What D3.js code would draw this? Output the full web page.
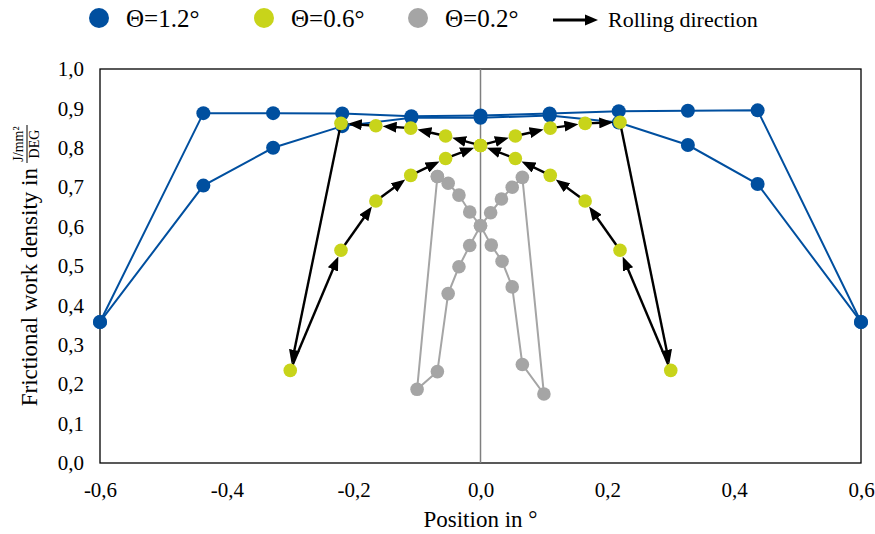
<!DOCTYPE html>
<html lang="en">
<head>
<meta charset="UTF-8">
<title>Frictional work density</title>
<script src="https://cdn.jsdelivr.net/npm/d3@7"></script>
<style>
  body { margin: 0; background: #fff; }
  svg text { font-family: "Liberation Serif", "Times New Roman", serif !important; fill: #000; }
</style>
</head>
<body>
<svg width="875" height="534"></svg>
<script>
// axis ticks
var xTicks = [-0.6, -0.4, -0.2, 0, 0.2, 0.4, 0.6];
var yTicks = [0, 0.1, 0.2, 0.3, 0.4, 0.5, 0.6, 0.7, 0.8, 0.9, 1.0];

// theta = 1.2 deg, two branches
var blueX     = [-0.6, -0.437, -0.327, -0.218, -0.109, 0, 0.109, 0.218, 0.327, 0.437, 0.6];
var blueUpper = [0.358, 0.888, 0.888, 0.887, 0.880, 0.882, 0.887, 0.893, 0.894, 0.895, 0.358];
var blueLower = [0.358, 0.704, 0.800, 0.855, 0.876, 0.876, 0.882, 0.864, 0.807, 0.708, 0.358];

// theta = 0.6 deg, in rolling order (arrows go point to point)
var yellowX = [0, -0.055, -0.11, -0.165, -0.22, -0.3, -0.22, -0.165, -0.11, -0.055, 0,
               0.055, 0.11, 0.165, 0.22, 0.3, 0.22, 0.165, 0.11, 0.055, 0];
var yellowY = [0.806, 0.830, 0.850, 0.856, 0.862, 0.235, 0.540, 0.665, 0.730, 0.773, 0.806,
               0.830, 0.850, 0.862, 0.865, 0.235, 0.540, 0.665, 0.730, 0.773, 0.806];

// theta = 0.2 deg, closed loop
var grayX = [-0.068, -0.051, -0.034, -0.017, 0, 0.017, 0.034, 0.05, 0.066, 0.1,
             0.066, 0.05, 0.033, 0.016, 0, -0.017, -0.034, -0.051, -0.068, -0.1, -0.068];
var grayY = [0.727, 0.710, 0.680, 0.637, 0.602, 0.553, 0.512, 0.447, 0.250, 0.175,
             0.725, 0.700, 0.670, 0.635, 0.602, 0.552, 0.498, 0.430, 0.232, 0.187, 0.727];

var legendLabels = ["\u0398=1.2\u00b0", "\u0398=0.6\u00b0", "\u0398=0.2\u00b0"];
var arrowLabel = "Rolling direction";

var colors = ["#004f9f", "#c8d41a", "#a5a5a5"];
var serif = "'Liberation Serif', 'Times New Roman', serif";

var svg = d3.select("svg");
var pLeft = 100, pRight = 861, pTop = 69, pBottom = 463;

var x = d3.scaleLinear().domain([-0.6, 0.6]).range([pLeft, pRight]);
var y = d3.scaleLinear().domain([0, 1]).range([pBottom, pTop]);
var fmt = function(d) { return d3.format(".1f")(d).replace(".", ",").replace("\u2212", "-"); };

svg.append("defs").append("marker")
    .attr("id", "arr")
    .attr("viewBox", "0 -5.5 14 11")
    .attr("refX", 10)
    .attr("refY", 0)
    .attr("markerWidth", 14)
    .attr("markerHeight", 11)
    .attr("markerUnits", "userSpaceOnUse")
    .attr("orient", "auto")
    .append("path")
    .attr("d", "M0,-5.5L14,0L0,5.5Z")
    .attr("fill", "#000");

// frame
svg.append("rect")
    .attr("x", pLeft).attr("y", pTop)
    .attr("width", pRight - pLeft).attr("height", pBottom - pTop)
    .attr("fill", "none").attr("stroke", "#000").attr("stroke-width", 1.3);

// zero line
svg.append("line")
    .attr("x1", x(0)).attr("x2", x(0))
    .attr("y1", pTop).attr("y2", pBottom)
    .attr("stroke", "#7f7f7f").attr("stroke-width", 1.5);

// axes
var ya = svg.append("g")
    .attr("transform", "translate(" + pLeft + ",0)")
    .call(d3.axisLeft(y).tickValues(yTicks).tickSize(0).tickPadding(16).tickFormat(fmt));
ya.attr("font-family", serif);
ya.select(".domain").remove();
ya.selectAll("text").attr("font-size", 21).style("font-family", serif);

var xa = svg.append("g")
    .attr("transform", "translate(0," + pBottom + ")")
    .call(d3.axisBottom(x).tickValues(xTicks).tickSize(0).tickPadding(19).tickFormat(fmt));
xa.attr("font-family", serif);
xa.select(".domain").remove();
xa.selectAll("text").attr("font-size", 21).style("font-family", serif);

// axis titles
svg.append("text")
    .attr("x", x(0)).attr("y", 527)
    .attr("text-anchor", "middle")
    .attr("font-size", 23)
    .text("Position in \u00b0");

var yl = svg.append("g").attr("transform", "rotate(-90)");
yl.append("text")
    .attr("x", -168).attr("y", 37)
    .attr("text-anchor", "end")
    .attr("font-size", 23)
    .text("Frictional work density in");
yl.append("text")
    .attr("x", -144).attr("y", 23)
    .attr("text-anchor", "middle")
    .attr("font-size", 14)
    .text("J/mm\u00b2");
yl.append("line")
    .attr("x1", -163).attr("x2", -125)
    .attr("y1", 27).attr("y2", 27)
    .attr("stroke", "#000").attr("stroke-width", 1);
yl.append("text")
    .attr("x", -144).attr("y", 39)
    .attr("text-anchor", "middle")
    .attr("font-size", 14)
    .text("DEG");

// blue lines + points
var line = d3.line().x(function(d) { return x(d[0]); }).y(function(d) { return y(d[1]); });
[blueUpper, blueLower].forEach(function(vals) {
    var pts = blueX.map(function(v, i) { return [v, vals[i]]; });
    svg.append("path")
        .attr("d", line(pts))
        .attr("fill", "none").attr("stroke", colors[0]).attr("stroke-width", 2);
    svg.append("g").selectAll("circle")
        .data(pts).enter().append("circle")
        .attr("cx", function(d) { return x(d[0]); })
        .attr("cy", function(d) { return y(d[1]); })
        .attr("r", 7)
        .attr("fill", colors[0]);
});

// gray loop
var grayPts = grayX.map(function(v, i) { return [v, grayY[i]]; });
svg.append("path")
    .attr("d", line(grayPts))
    .attr("fill", "none").attr("stroke", colors[2]).attr("stroke-width", 2);
svg.append("g").selectAll("circle")
    .data(grayPts).enter().append("circle")
    .attr("cx", function(d) { return x(d[0]); })
    .attr("cy", function(d) { return y(d[1]); })
    .attr("r", 6.8)
    .attr("fill", colors[2]);

// yellow arrows
var yellowPts = yellowX.map(function(v, i) { return [v, yellowY[i]]; });
var segs = d3.pairs(yellowPts);
var rY = 6.8;
svg.append("g").selectAll("line")
    .data(segs).enter().append("line")
    .each(function(d) {
        var x1 = x(d[0][0]), y1 = y(d[0][1]), x2 = x(d[1][0]), y2 = y(d[1][1]);
        var len = Math.sqrt((x2 - x1) * (x2 - x1) + (y2 - y1) * (y2 - y1));
        var k = (len - rY - 4) / len;
        d3.select(this)
            .attr("x1", x1).attr("y1", y1)
            .attr("x2", x1 + (x2 - x1) * k).attr("y2", y1 + (y2 - y1) * k);
    })
    .attr("stroke", "#000").attr("stroke-width", 2.4)
    .attr("marker-end", "url(#arr)");
svg.append("g").selectAll("circle")
    .data(yellowPts).enter().append("circle")
    .attr("cx", function(d) { return x(d[0]); })
    .attr("cy", function(d) { return y(d[1]); })
    .attr("r", rY)
    .attr("fill", colors[1]);

// legend
var legX = [99, 264, 418];
var lg = svg.append("g");
legendLabels.forEach(function(lab, i) {
    lg.append("circle")
        .attr("cx", legX[i]).attr("cy", 18).attr("r", 10)
        .attr("fill", colors[i]);
    lg.append("text")
        .attr("x", legX[i] + 27).attr("y", 27)
        .attr("font-size", 25)
        .style("font-family", serif)
        .text(lab);
});
lg.append("line")
    .attr("x1", 553).attr("x2", 588)
    .attr("y1", 20).attr("y2", 20)
    .attr("stroke", "#000").attr("stroke-width", 3);
lg.append("path")
    .attr("d", "M585,14.5L598,20L585,25.5Z")
    .attr("fill", "#000");
lg.append("text")
    .attr("x", 608).attr("y", 27)
    .attr("font-size", 22)
    .text(arrowLabel);
</script>
</body>
</html>
